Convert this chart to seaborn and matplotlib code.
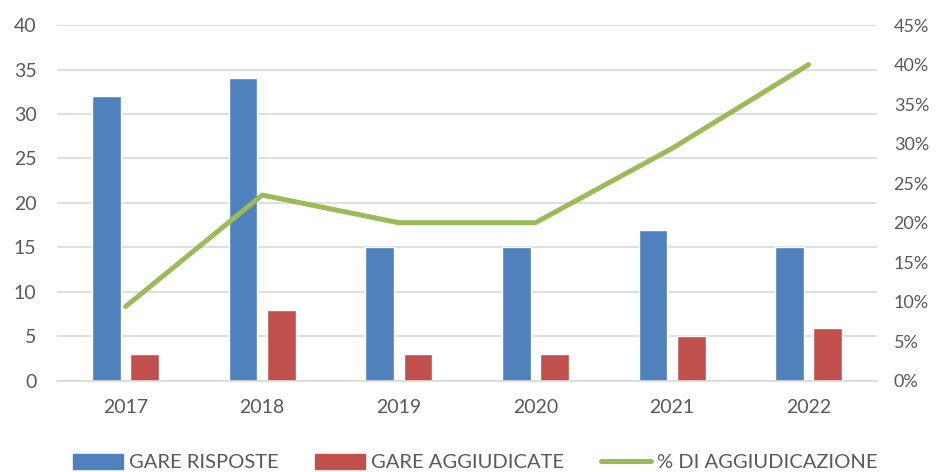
import pandas as pd
import matplotlib.pyplot as plt
import matplotlib.ticker as mtick
from matplotlib.patches import Patch
from matplotlib.lines import Line2D
import seaborn as sns

# dati
anni = ["2017", "2018", "2019", "2020", "2021", "2022"]
gare_risposte = [32, 34, 15, 15, 17, 15]
gare_aggiudicate = [3, 8, 3, 3, 5, 6]
perc_aggiudicazione = [0.094, 0.235, 0.20, 0.20, 0.294, 0.40]

BLUE = "#4f81bd"
RED = "#c0504d"
GREEN = "#9bbb59"
GREY = "#595959"

sns.set_theme(style="white")
plt.rcParams['font.family'] = ['Lato', 'DejaVu Sans']

df = pd.DataFrame({"anno": anni * 2,
                   "valore": gare_risposte + gare_aggiudicate,
                   "serie": ["GARE RISPOSTE"] * 6 + ["GARE AGGIUDICATE"] * 6})

fig = plt.figure(figsize=(9.39, 4.72), dpi=100)
ax = fig.add_axes([0.061, 0.193, 0.873, 0.754])

sns.barplot(data=df, x="anno", y="valore", hue="serie",
            palette=[BLUE, RED], width=0.56, gap=0.25, ax=ax,
            legend=False, saturation=1)

ax.set_ylim(0, 40)
ax.set_yticks(range(0, 41, 5))
ax.set_xlim(-0.5, 5.5)
ax.yaxis.grid(True, color="#d9d9d9", linewidth=1.2)
ax.set_axisbelow(True)
ax.set_xlabel("")
ax.set_ylabel("")
for s in ["top", "right", "left"]:
    ax.spines[s].set_visible(False)
ax.spines["bottom"].set_color("#d9d9d9")
ax.spines["bottom"].set_linewidth(1.2)
ax.tick_params(axis="both", length=0, labelsize=14, colors=GREY)
ax.tick_params(axis="y", pad=15)
ax.tick_params(axis="x", pad=13)

ax2 = ax.twinx()
sns.lineplot(x=list(range(6)), y=perc_aggiudicazione, color=GREEN,
             linewidth=3.6, ax=ax2)
ax2.set_ylim(0, 0.45)
ax2.set_yticks([i * 0.05 for i in range(10)])
ax2.yaxis.set_major_formatter(mtick.PercentFormatter(1.0, decimals=0))
ax2.tick_params(axis="y", length=0, labelsize=13, colors=GREY, pad=12)
for s in ["top", "right", "left", "bottom"]:
    ax2.spines[s].set_visible(False)
ax2.set_xlim(-0.5, 5.5)

handles = [Patch(color=BLUE, label="GARE RISPOSTE"),
           Patch(color=RED, label="GARE AGGIUDICATE"),
           Line2D([0], [0], color=GREEN, linewidth=3.6, label="% DI AGGIUDICAZIONE")]
leg = fig.legend(handles=handles, loc="center", bbox_to_anchor=(0.506, 0.02),
                 ncol=3, frameon=False, fontsize=14.5, handlelength=2.5,
                 handleheight=0.8, columnspacing=1.8, handletextpad=0.3)
for t in leg.get_texts():
    t.set_color(GREY)

plt.savefig("out.png", dpi=100)
plt.close()
